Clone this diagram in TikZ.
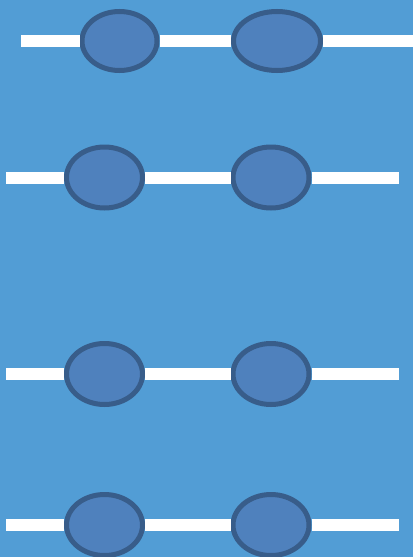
\documentclass[tikz,border=0pt]{standalone}
\usepackage{tikz}
\usetikzlibrary{shapes.geometric}

\definecolor{bgblue}{RGB}{82,157,213}
\definecolor{ovalfill}{RGB}{79,129,189}
\definecolor{ovalline}{RGB}{56,93,138}

\begin{document}
\begin{tikzpicture}[x=1pt, y=-1pt,
		oval_style/.style={ellipse,draw=ovalline,fill=ovalfill,line width=5pt,minimum width=76pt,minimum height=61pt,inner sep=0pt},
		top_style/.style={oval_style,minimum width=75pt,minimum height=59pt},
		wide_style/.style={oval_style,minimum width=87pt,minimum height=59pt},
		bar_style/.style={draw=white,line width=12pt}]
		
		\fill[bgblue] (0,0) rectangle (413,557);
		\useasboundingbox (0,0) rectangle (413,557);
		
		\coordinate (l1) at (21,41);
		\coordinate (r1) at (413,41);
		\coordinate (l2) at (6,177.5);
		\coordinate (r2) at (399,177.5);
		\coordinate (l3) at (6,374);
		\coordinate (r3) at (399,374);
		\coordinate (l4) at (6,525);
		\coordinate (r4) at (399,525);
		
		\node[top_style] (a1) at (119.5,41)  {};
		\node[wide_style] (b1) at (277,41)  {};
		\node[oval_style] (a2) at (104.5,177.5)  {};
		\node[oval_style] (b2) at (271,177.5)  {};
		\node[oval_style] (a3) at (104.5,374)  {};
		\node[oval_style] (b3) at (271,374)  {};
		\node[oval_style] (a4) at (104.5,525)  {};
		\node[oval_style] (b4) at (271,525)  {};
		
		\draw[bar_style]  (l1) -- (a1) (a1) -- (b1) (b1) -- (r1);
		\draw[bar_style]  (l2) -- (a2) (a2) -- (b2) (b2) -- (r2);
		\draw[bar_style]  (l3) -- (a3) (a3) -- (b3) (b3) -- (r3);
		\draw[bar_style]  (l4) -- (a4) (a4) -- (b4) (b4) -- (r4);
		
\end{tikzpicture}
\end{document}
